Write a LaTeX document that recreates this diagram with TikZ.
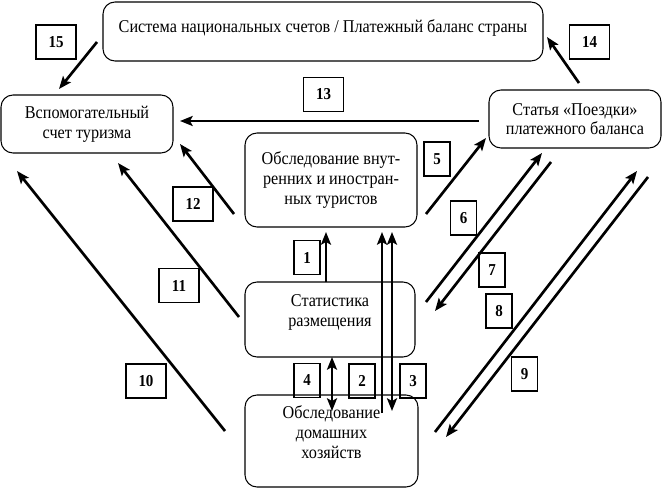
\documentclass[tikz,border=0pt]{standalone}
\usepackage{fontspec}
\setmainfont{Liberation Serif}[FakeStretch=0.9]
\usetikzlibrary{arrows.meta}

\def\u{0.75pt}

\tikzset{
  block/.style={draw, rounded corners=9pt, line width=0.8pt, align=center,
    inner sep=0pt, font=\fontsize{13.5}{14.8}\selectfont},
  tag/.style={draw, line width=0.8pt, minimum height=25.5pt, inner sep=0pt,
    font=\fontsize{12.5}{14}\selectfont\bfseries},
  flow/.style={line width=2pt, -{Stealth[length=9.5pt,width=7.5pt,inset=2pt]}},
  twoway/.style={line width=2pt, {Stealth[length=9.5pt,width=7.5pt,inset=2pt]}-{Stealth[length=9.5pt,width=7.5pt,inset=2pt]}},
}

\begin{document}
\begin{tikzpicture}[x=\u, y=-\u]

\useasboundingbox (0,0) rectangle (662,489);

% ============================================================
% BLOCKS (pixel grid of the scheme, y downwards)
% ============================================================

\node[block, minimum width=440*\u, minimum height=59*\u, text depth=8pt] (nsa) at (323,31.5)
  {Система национальных счетов / Платежный баланс страны};

\node[block, minimum width=172*\u, minimum height=58*\u] (tsa) at (87,124)
  {Вспомогательный\\счет туризма};

\node[block, minimum width=172*\u, minimum height=58*\u] (bop) at (575,119)
  {Статья «Поездки»\\платежного баланса};

\node[block, minimum width=172*\u, minimum height=94*\u] (survey) at (331,180)
  {Обследование внут-\\ренних и иностран-\\ных туристов};

% text sits a little high in the two lower blocks
\node[block, minimum width=170*\u, minimum height=75*\u, text depth=13pt] (accom) at (330,319.5)
  {Статистика\\размещения};

\node[block, minimum width=173*\u, minimum height=92*\u, text depth=13.5pt] (house) at (331.5,441)
  {Обследование\\домашних\\хозяйств};

% ============================================================
% NUMBER TAGS
% ============================================================

% two-digit tags
\foreach \n/\x/\y in {15/56/42, 14/589.5/42, 13/323.5/94.5, 12/193/204, 11/179/285.5, 10/146/381}{%
  \node[tag, minimum width=40*\u] (l\n) at (\x,\y) {\n};
}

% one-digit tags
\foreach \n/\x/\y in {5/437/159, 6/463.5/218, 7/492/270, 8/499/311, 9/524.5/374, 1/307/257.5, 4/307/380.5, 2/362/381, 3/413/381}{%
  \node[tag, minimum width=26*\u] (l\n) at (\x,\y) {\n};
}

% ============================================================
% FLOWS: tail (t) and head (h) of every arrow
% ============================================================

\foreach \n/\ax/\ay/\bx/\by in {15/97/42/59/89, 14/579/83/547/37, 13/479/121/180/121,
    12/234/214/180/144, 11/239/317/118/163, 10/225/431/17/171,
    5/426/214/486/138, 6/426/302/542/153, 7/551/162/435/311,
    8/435/432/637/171, 9/648/177/446/437,
    1/326/282/326/232, 2/382/413/382/232, 3/392/411/392/232, 4/332/357/332/411}{%
  \coordinate (t\n) at (\ax,\ay);
  \coordinate (h\n) at (\bx,\by);
}

\foreach \n in {15,14,13,12,11,10,5,6,7,8,9,1,2}{%
  \draw[flow] (t\n) -- (h\n);
}

% both ways
\draw[twoway] (t3) -- (h3);
\draw[twoway] (t4) -- (h4);

\end{tikzpicture}
\end{document}
